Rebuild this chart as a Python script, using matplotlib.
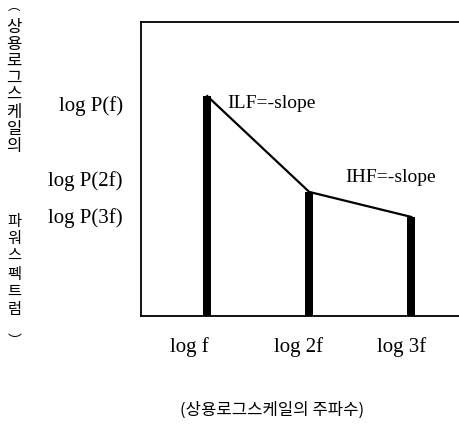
import matplotlib.pyplot as plt

# data
positions = [1, 2, 3]
power = [7.48, 4.22, 3.37]
xtick_pos = [0.83, 1.9, 2.91]
xtick_labels = ['log f', 'log 2f', 'log 3f']
ytick_pos = [7.24, 4.69, 3.4]
ytick_labels = ['log P(f)', 'log P(2f)', 'log P(3f)']

serif = 'Liberation Serif'
kor = ['Noto Sans CJK KR', 'DejaVu Sans']

fig = plt.figure(figsize=(4.59, 4.43), dpi=100)
ax = fig.add_axes([0.307, 0.2867, 0.70, 0.6637])

ax.bar(positions, power, width=0.08, color='black')
ax.plot(positions, power, color='black', lw=1.6)

ax.text(1.2, 7.24, 'ILF=-slope', fontsize=14, family=serif, va='center')
ax.text(2.35, 4.7, 'IHF=-slope', fontsize=14, family=serif, va='center')

ax.set_xlim(0.35, 3.5)
ax.set_ylim(0, 10)
ax.set_xticks(xtick_pos)
ax.set_xticklabels(xtick_labels, fontsize=15, family=serif)
ax.set_yticks(ytick_pos)
ax.set_yticklabels(ytick_labels, fontsize=15, family=serif)
ax.tick_params(length=0)
ax.tick_params(axis='x', pad=15)
ax.tick_params(axis='y', pad=13)
ax.spines['right'].set_visible(False)
for s in ['left', 'bottom', 'top']:
    ax.spines[s].set_linewidth(1.3)

# vertical korean y label, characters stacked upright
fig.text(0.031, 0.985, '︵', fontsize=9, family=kor, ha='center', va='center')
fig.text(0.031, 0.958, '\n'.join('상용로그스케일의'), fontsize=12, family=kor,
         ha='center', va='top', linespacing=1.0)
fig.text(0.031, 0.52, '\n'.join('파워스펙트럼'), fontsize=11, family=kor,
         ha='center', va='top', linespacing=1.05)
fig.text(0.031, 0.23, '︶', fontsize=10, family=kor, ha='center', va='center')

fig.text(0.593, 0.075, '(상용로그스케일의 주파수)', fontsize=12, family=kor,
         ha='center', va='center')

fig.savefig('out.png', dpi=100)
